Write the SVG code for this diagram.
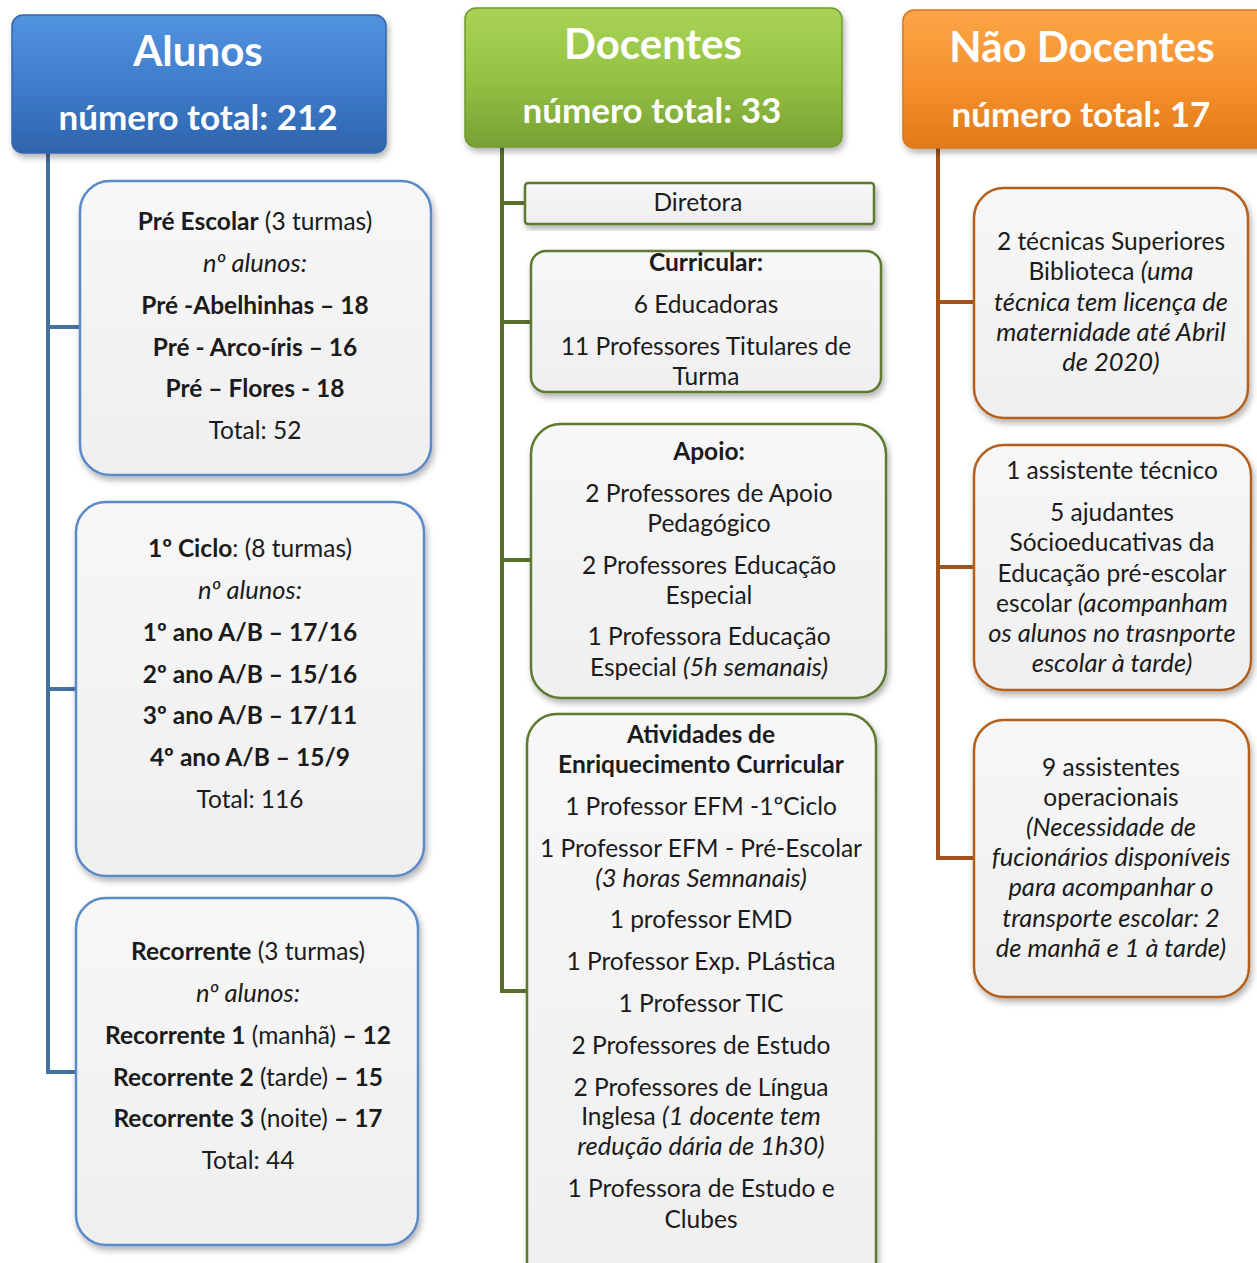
<svg xmlns="http://www.w3.org/2000/svg" width="1257" height="1263" viewBox="0 0 1257 1263">
<style>
text{font-family:Lato,"Open Sans","Liberation Sans",sans-serif;fill:#1b1b1b;text-anchor:middle;font-size:24.5px}
.h1{font-size:42px;font-weight:bold;fill:#fff}
.h2{font-size:35px;font-weight:bold;fill:#fff}
.b{font-weight:bold}
.i{font-style:italic;font-size:25.5px}
.box{fill:url(#gBox);stroke-width:2.5}
.bl{stroke:#5b89c8}
.gr{stroke:#5e7a2e}
.or{stroke:#b4611c}
.cb{fill:none;stroke:#41719c;stroke-width:4}
.cg{fill:none;stroke:#58702c;stroke-width:4}
.co{fill:none;stroke:#a3521a;stroke-width:4}
</style>
<defs>
<linearGradient id="gBlue" x1="0" y1="0" x2="0" y2="1"><stop offset="0" stop-color="#5293de"/><stop offset="0.5" stop-color="#3f7dcc"/><stop offset="1" stop-color="#2e64ad"/></linearGradient>
<linearGradient id="gGreen" x1="0" y1="0" x2="0" y2="1"><stop offset="0" stop-color="#a9d356"/><stop offset="0.5" stop-color="#95c244"/><stop offset="1" stop-color="#77a133"/></linearGradient>
<linearGradient id="gOrange" x1="0" y1="0" x2="0" y2="1"><stop offset="0" stop-color="#fba547"/><stop offset="0.5" stop-color="#f7922f"/><stop offset="1" stop-color="#e27a18"/></linearGradient>
<linearGradient id="gBox" x1="0" y1="0" x2="0" y2="1"><stop offset="0" stop-color="#f7f7f7"/><stop offset="1" stop-color="#efefef"/></linearGradient>
<filter id="sh" x="-10%" y="-10%" width="125%" height="125%"><feDropShadow dx="2" dy="4" stdDeviation="3" flood-color="#000" flood-opacity="0.3"/></filter>
</defs>

<g id="connectors">
<path class="cb" d="M48 153V1072H78M48 327H82M48 689H78"/>
<path class="cg" d="M502 147V991H529M502 203H527M502 322H533M502 560H533"/>
<path class="co" d="M938 148V858H976M938 302H976M938 567H976"/>
</g>

<g id="alunos">
<rect x="12" y="15" width="374" height="138" rx="11" fill="url(#gBlue)" stroke="#3566a8" stroke-width="1.5" filter="url(#sh)"/>
<text class="h1" x="198" y="66">Alunos</text>
<text class="h2" x="198" y="130">número total: 212</text>
</g>

<g id="docentes">
<rect x="465" y="8" width="377" height="139" rx="11" fill="url(#gGreen)" stroke="#6f9a30" stroke-width="1.5" filter="url(#sh)"/>
<text class="h1" x="653" y="59">Docentes</text>
<text class="h2" x="652" y="123">número total: 33</text>
</g>

<g id="naodocentes">
<rect x="903" y="10" width="370" height="138" rx="11" fill="url(#gOrange)" stroke="#d9761c" stroke-width="1.5" filter="url(#sh)"/>
<text class="h1" x="1082" y="62">Não Docentes</text>
<text class="h2" x="1081" y="127">número total: 17</text>
</g>

<g id="preescolar">
<rect class="box bl" x="80" y="181" width="351" height="294" rx="30" filter="url(#sh)"/>
<text x="255" y="230"><tspan class="b">Pré Escolar</tspan> (3 turmas)</text>
<text x="255" y="272" class="i">nº alunos:</text>
<text x="255" y="314" class="b">Pré -Abelhinhas – 18</text>
<text x="255" y="356" class="b">Pré - Arco-íris – 16</text>
<text x="255" y="397" class="b">Pré – Flores - 18</text>
<text x="255" y="439">Total: 52</text>
</g>

<g id="ciclo1">
<rect class="box bl" x="76" y="502" width="348" height="374" rx="30" filter="url(#sh)"/>
<text x="250" y="557"><tspan class="b">1º Ciclo</tspan>: (8 turmas)</text>
<text x="250" y="599" class="i">nº alunos:</text>
<text x="250" y="641" class="b">1º ano A/B – 17/16</text>
<text x="250" y="683" class="b">2º ano A/B – 15/16</text>
<text x="250" y="724" class="b">3º ano A/B – 17/11</text>
<text x="250" y="766" class="b">4º ano A/B – 15/9</text>
<text x="250" y="808">Total: 116</text>
</g>

<g id="recorrente">
<rect class="box bl" x="76" y="898" width="342" height="347" rx="30" filter="url(#sh)"/>
<text x="248" y="960"><tspan class="b">Recorrente</tspan> (3 turmas)</text>
<text x="248" y="1002" class="i">nº alunos:</text>
<text x="248" y="1044"><tspan class="b">Recorrente 1</tspan> (manhã) <tspan class="b">– 12</tspan></text>
<text x="248" y="1086"><tspan class="b">Recorrente 2</tspan> (tarde) <tspan class="b">– 15</tspan></text>
<text x="248" y="1127"><tspan class="b">Recorrente 3</tspan> (noite) <tspan class="b">– 17</tspan></text>
<text x="248" y="1169">Total: 44</text>
</g>

<g id="diretora">
<rect class="box gr" x="525" y="183" width="349" height="41" rx="3" filter="url(#sh)"/>
<text x="698" y="211">Diretora</text>
</g>

<g id="curricular">
<rect class="box gr" x="531" y="251" width="350" height="141" rx="15" filter="url(#sh)"/>
<text x="706" y="271" class="b">Curricular:</text>
<text x="706" y="313">6 Educadoras</text>
<text x="706" y="355">11 Professores Titulares de</text>
<text x="706" y="385">Turma</text>
</g>

<g id="apoio">
<rect class="box gr" x="531" y="424" width="355" height="274" rx="30" filter="url(#sh)"/>
<text x="709" y="460" class="b">Apoio:</text>
<text x="709" y="502">2 Professores de Apoio</text>
<text x="709" y="532">Pedagógico</text>
<text x="709" y="574">2 Professores Educação</text>
<text x="709" y="604">Especial</text>
<text x="709" y="645">1 Professora Educação</text>
<text x="709" y="676">Especial <tspan class="i">(5h semanais)</tspan></text>
</g>

<g id="aec">
<rect class="box gr" x="527" y="714" width="349" height="580" rx="30" filter="url(#sh)"/>
<text x="701" y="743" class="b">Atividades de</text>
<text x="701" y="773" class="b">Enriquecimento Curricular</text>
<text x="701" y="815">1 Professor EFM -1ºCiclo</text>
<text x="701" y="857">1 Professor EFM - Pré-Escolar</text>
<text x="701" y="887" class="i">(3 horas Semnanais)</text>
<text x="701" y="928">1 professor EMD</text>
<text x="701" y="970">1 Professor Exp. PLástica</text>
<text x="701" y="1012">1 Professor TIC</text>
<text x="701" y="1054">2 Professores de Estudo</text>
<text x="701" y="1096">2 Professores de Língua</text>
<text x="701" y="1125">Inglesa <tspan class="i">(1 docente tem</tspan></text>
<text x="701" y="1155" class="i">redução dária de 1h30)</text>
<text x="701" y="1197">1 Professora de Estudo e</text>
<text x="701" y="1228">Clubes</text>
</g>

<g id="tecnicas">
<rect class="box or" x="974" y="188" width="274" height="230" rx="30" filter="url(#sh)"/>
<text x="1111" y="250">2 técnicas Superiores</text>
<text x="1111" y="280">Biblioteca <tspan class="i">(uma</tspan></text>
<text x="1111" y="311" class="i">técnica tem licença de</text>
<text x="1111" y="341" class="i">maternidade até Abril</text>
<text x="1111" y="371" class="i">de 2020)</text>
</g>

<g id="assistente">
<rect class="box or" x="974" y="445" width="277" height="245" rx="30" filter="url(#sh)"/>
<text x="1112" y="479">1 assistente técnico</text>
<text x="1112" y="521">5 ajudantes</text>
<text x="1112" y="551">Sócioeducativas da</text>
<text x="1112" y="582">Educação  pré-escolar</text>
<text x="1112" y="612">escolar <tspan class="i">(acompanham</tspan></text>
<text x="1112" y="642" class="i">os alunos no trasnporte</text>
<text x="1112" y="672" class="i">escolar à tarde)</text>
</g>

<g id="operacionais">
<rect class="box or" x="974" y="720" width="275" height="277" rx="30" filter="url(#sh)"/>
<text x="1111" y="776">9 assistentes</text>
<text x="1111" y="806">operacionais</text>
<text x="1111" y="836" class="i">(Necessidade de</text>
<text x="1111" y="866" class="i">fucionários disponíveis</text>
<text x="1111" y="896" class="i">para acompanhar o</text>
<text x="1111" y="927" class="i">transporte escolar: 2</text>
<text x="1111" y="957" class="i">de manhã e 1 à tarde)</text>
</g>
</svg>
